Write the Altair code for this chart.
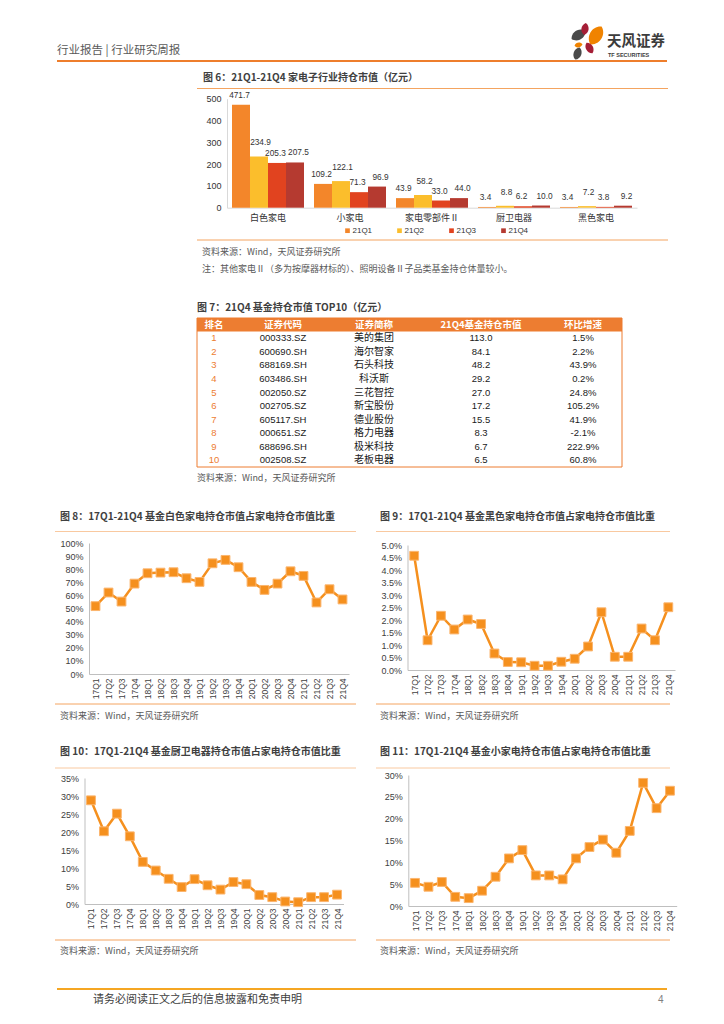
import altair as alt
import pandas as pd

CJK = "Noto Sans CJK SC"
LAT = "Liberation Sans"

# ---------------- data ----------------
fig6_categories = ["白色家电", "小家电", "家电零部件Ⅱ", "厨卫电器", "黑色家电"]
fig6_quarters = ["21Q1", "21Q2", "21Q3", "21Q4"]
fig6_21q1 = [471.7, 109.2, 43.9, 3.4, 3.4]
fig6_21q2 = [234.9, 122.1, 58.2, 8.8, 7.2]
fig6_21q3 = [205.3, 71.3, 33.0, 6.2, 3.8]
fig6_21q4 = [207.5, 96.9, 44.0, 10.0, 9.2]
fig6_colors = ["#F3862A", "#FBBE2C", "#E1431F", "#B53A30"]
fig6_ticks = [0, 100, 200, 300, 400, 500]

top10_header = ["排名", "证券代码", "证券简称", "21Q4基金持仓市值", "环比增速"]
top10_rank = [1, 2, 3, 4, 5, 6, 7, 8, 9, 10]
top10_code = ["000333.SZ", "600690.SH", "688169.SH", "603486.SH", "002050.SZ",
              "002705.SZ", "605117.SH", "000651.SZ", "688696.SH", "002508.SZ"]
top10_name = ["美的集团", "海尔智家", "石头科技", "科沃斯", "三花智控",
              "新宝股份", "德业股份", "格力电器", "极米科技", "老板电器"]
top10_value = [113.0, 84.1, 48.2, 29.2, 27.0, 17.2, 15.5, 8.3, 6.7, 6.5]
top10_growth = [1.5, 2.2, 43.9, 0.2, 24.8, 105.2, 41.9, -2.1, 222.9, 60.8]

quarters = ["17Q1", "17Q2", "17Q3", "17Q4", "18Q1", "18Q2", "18Q3", "18Q4",
            "19Q1", "19Q2", "19Q3", "19Q4", "20Q1", "20Q2", "20Q3", "20Q4",
            "21Q1", "21Q2", "21Q3", "21Q4"]
white_share = [51.8, 62.2, 55.3, 69.0, 76.9, 77.4, 77.7, 73.1, 70.3, 84.5,
               87.1, 81.5, 70.3, 64.2, 69.0, 78.4, 74.9, 54.6, 64.7, 56.9]
black_share = [4.57, 1.19, 2.17, 1.62, 2.02, 1.84, 0.66, 0.32, 0.31, 0.17,
               0.17, 0.33, 0.45, 0.94, 2.31, 0.53, 0.53, 1.66, 1.19, 2.51]
kitchen_share = [28.8, 20.2, 25.1, 18.8, 11.7, 9.3, 7.0, 4.7, 6.9, 5.2,
                 4.0, 6.1, 5.5, 2.5, 1.9, 0.7, 0.5, 1.9, 1.9, 2.6]
small_share = [5.3, 4.4, 5.5, 2.1, 1.8, 3.5, 6.7, 10.9, 12.8, 7.0,
               7.0, 6.1, 10.9, 13.5, 15.2, 12.2, 17.2, 28.2, 22.4, 26.4]
white_ticks = [0, 10, 20, 30, 40, 50, 60, 70, 80, 90, 100]
black_ticks = [0, 0.5, 1.0, 1.5, 2.0, 2.5, 3.0, 3.5, 4.0, 4.5, 5.0]
kitchen_ticks = [0, 5, 10, 15, 20, 25, 30, 35]
small_ticks = [0, 5, 10, 15, 20, 25, 30]

# ---------------- page geometry ----------------
W, H = 700, 1000


def px(p):
    return p - 8


one = pd.DataFrame({"k": [0]})
ORANGE_LINE = "#F4A460"
PEACH_LINE = "#F9C9A0"
LINE_ORANGE = "#F5901E"


def txt(s, x, y, size=9, color="#595959", font=CJK, bold=False, align="left"):
    return alt.Chart(one).mark_text(
        text=s, align=align, baseline="middle", fontSize=size, font=font,
        color=color, fontWeight="bold" if bold else "normal"
    ).encode(x=alt.value(px(x)), y=alt.value(px(y)))


def hline(x1, x2, y, color, w=1.0):
    return alt.Chart(one).mark_rule(color=color, strokeWidth=w).encode(
        x=alt.value(px(x1)), x2=alt.value(px(x2)), y=alt.value(px(y)))


LEAF = "M0,-1C0.8,-0.6 0.8,0.6 0,1C-0.8,0.6 -0.8,-0.6 0,-1Z"


def petal(x, y, length, angle, color):
    return alt.Chart(one).mark_point(
        shape=LEAF, filled=True, size=length * length, angle=angle,
        color=color, opacity=1, strokeWidth=0
    ).encode(x=alt.value(px(x)), y=alt.value(px(y)))


layers = []

# ---------------- header / footer ----------------
layers += [
    txt("行业报告 | 行业研究周报", 57, 51, size=11.5, color="#595959"),
    hline(57, 667, 61, "#EE7E2C", 2),
    petal(578.5, 35, 16, 60, "#4A4A4A"),
    petal(585, 29, 12, 8, "#A51E36"),
    petal(596, 35.5, 21, 32, "#F08300"),
    petal(578.5, 45, 8, 80, "#F08300"),
    petal(589.5, 48, 12, 330, "#A51E36"),
    petal(577.5, 53.5, 13, 20, "#4A4A4A"),
    txt("天风证券", 607, 42, size=14.5, color="#3C3C3C", bold=True),
    txt("TF SECURITIES", 608, 54.5, size=5.5, color="#3C3C3C", font=LAT, bold=True),
    hline(57, 667, 989, "#F5A623", 2),
    txt("请务必阅读正文之后的信息披露和免责申明", 93, 1000, size=11, color="#404040"),
    txt("4", 658, 1000, size=10, color="#808080", font=LAT),
]

# ---------------- figure 6 ----------------
fig6_df = pd.DataFrame({
    "category": fig6_categories * 4,
    "quarter": [q for q in fig6_quarters for _ in fig6_categories],
    "value": fig6_21q1 + fig6_21q2 + fig6_21q3 + fig6_21q4,
})

f6_x = alt.X(
    "category:N", sort=fig6_categories,
    scale=alt.Scale(domain=fig6_categories, range=[px(227), px(637)],
                    paddingInner=0.122, paddingOuter=0.061),
    axis=alt.Axis(orient="bottom", offset=px(207.7) - H, title=None, ticks=False,
                  labelAngle=0, labelFont=CJK, labelFontSize=9, labelColor="#333333",
                  labelPadding=6, domainColor="#D9D9D9", grid=False),
)
f6_xo = alt.XOffset("quarter:N", sort=fig6_quarters,
                    scale=alt.Scale(domain=fig6_quarters, paddingInner=0, paddingOuter=0))
f6_y = alt.Y(
    "value:Q",
    scale=alt.Scale(domain=[0, 500], range=[px(207.7), px(98.7)], nice=False),
    axis=alt.Axis(orient="left", offset=-px(227), title=None, ticks=False,
                  values=fig6_ticks, labelFont=LAT, labelFontSize=9,
                  labelColor="#333333", labelPadding=6, domainColor="#D9D9D9", grid=False),
)
f6_color = alt.Color("quarter:N", sort=fig6_quarters,
                     scale=alt.Scale(domain=fig6_quarters, range=fig6_colors),
                     legend=None)
f6_bars = alt.Chart(fig6_df).mark_bar().encode(
    x=f6_x, xOffset=f6_xo, y=f6_y, color=f6_color)

# value labels, one layer per quarter with a small nudge (as in the reference)
label_dx = {"21Q1": -1.5, "21Q2": 1.5, "21Q3": -1.5, "21Q4": 3.5}
label_dy = {"21Q1": -5, "21Q2": -9, "21Q3": -5, "21Q4": -5}
f6_label_layers = [
    alt.Chart(fig6_df).transform_filter(alt.datum.quarter == q).mark_text(
        baseline="bottom", dy=label_dy[q], dx=label_dx[q], fontSize=8.3, font=LAT,
        color="#333333"
    ).encode(x=f6_x, xOffset=f6_xo, y=f6_y, text=alt.Text("value:Q", format=".1f"))
    for q in fig6_quarters
]

# legend built from the quarter list
legend_df = pd.DataFrame({"quarter": fig6_quarters})
leg_x = alt.X("quarter:N", sort=fig6_quarters,
              scale=alt.Scale(type="point", domain=fig6_quarters,
                              range=[px(347.5), px(503.5)], padding=0),
              axis=None)
leg_sym = alt.Chart(legend_df).mark_square(size=22, opacity=1).encode(
    x=leg_x, y=alt.value(px(230.7)), color=f6_color)
leg_txt = alt.Chart(legend_df).mark_text(
    align="left", baseline="middle", dx=5, fontSize=8, font=LAT, color="#333333"
).encode(x=leg_x, y=alt.value(px(230.7)), text="quarter:N")

layers += [
    txt("图 6：21Q1-21Q4 家电子行业持仓市值（亿元）", 203, 78, size=10, color="#404040", bold=True),
    hline(197, 668, 88.5, ORANGE_LINE, 1),
    alt.layer(f6_bars, *f6_label_layers),
    alt.layer(leg_sym, leg_txt),
    hline(197, 668, 240, ORANGE_LINE, 1),
    txt("资料来源：Wind，天风证券研究所", 202, 252, size=9),
    txt("注：其他家电Ⅱ（多为按摩器材标的）、照明设备Ⅱ子品类基金持仓体量较小。", 202, 268.5, size=9),
]

# ---------------- figure 7 (table) ----------------
table_df = pd.DataFrame({
    "row": top10_rank,
    "rank": top10_rank,
    "code": top10_code,
    "name": top10_name,
    "value": top10_value,
    "growth": top10_growth,
})
row_y = alt.Y("row:O", scale=alt.Scale(type="point", domain=list(range(11)),
                                       range=[px(318), px(467)], padding=0.5),
              axis=None)
col_x = [214, 283, 374, 481, 583]


def table_col(field, x, color="#1A1A1A", font=LAT, size=9.5, fmt=None, calc=None):
    base = alt.Chart(table_df)
    if calc is not None:
        base = base.transform_calculate(label=calc)
        text = alt.Text("label:N")
    elif fmt is not None:
        text = alt.Text(field + ":Q", format=fmt)
    else:
        text = alt.Text(field + ":N")
    return base.mark_text(align="center", baseline="middle", fontSize=size,
                          font=font, color=color).encode(
        x=alt.value(px(x)), y=row_y, text=text)


layers += [
    txt("图 7：21Q4 基金持仓市值 TOP10（亿元）", 197, 308, size=10, color="#404040", bold=True),
    alt.Chart(one).mark_rect(color="#ED7D31").encode(
        x=alt.value(px(197)), x2=alt.value(px(622)),
        y=alt.value(px(318)), y2=alt.value(px(331.5))),
    alt.Chart(one).mark_rect(fillOpacity=0, stroke="#ED7D31", strokeWidth=1).encode(
        x=alt.value(px(197)), x2=alt.value(px(622)),
        y=alt.value(px(318)), y2=alt.value(px(467))),
]
for h, cx in zip(top10_header, col_x):
    layers.append(txt(h, cx, 325, size=9.5, color="#FFFFFF", bold=True, align="center"))
layers += [
    table_col("rank", col_x[0], color="#ED7D31"),
    table_col("code", col_x[1]),
    table_col("name", col_x[2], font=CJK, size=10),
    table_col("value", col_x[3], fmt=".1f"),
    table_col("growth", col_x[4],
              calc="replace(format(datum.growth, '.1f'), '\u2212', '-') + '%'"),
    txt("资料来源：Wind，天风证券研究所", 197, 478, size=9),
]


# ---------------- figures 8-11 (line panels) ----------------
def line_panel(values, x0, x1, y0, ytop, dmax, ticks, label_expr):
    df = pd.DataFrame({"quarter": quarters, "share": values})
    x = alt.X("quarter:N", sort=quarters,
              scale=alt.Scale(type="point", domain=quarters,
                              range=[px(x0), px(x1)], padding=0.5),
              axis=alt.Axis(orient="bottom", offset=px(y0) - H, title=None,
                            ticks=False, labelAngle=-90, labelOverlap=False,
                            labelFont=LAT, labelFontSize=8.5, labelColor="#404040",
                            labelPadding=4, domainColor="#BFBFBF", grid=False))
    y = alt.Y("share:Q",
              scale=alt.Scale(domain=[0, dmax], range=[px(y0), px(ytop)], nice=False),
              axis=alt.Axis(orient="left", offset=-px(x0), title=None, ticks=False,
                            values=ticks, labelExpr=label_expr, labelFont=LAT,
                            labelFontSize=9, labelColor="#404040", labelPadding=6,
                            domainColor="#BFBFBF", grid=False))
    line = alt.Chart(df).mark_line(color=LINE_ORANGE, strokeWidth=2.5).encode(x=x, y=y)
    pts = alt.Chart(df).mark_point(shape="square", filled=True, size=78,
                                   color=LINE_ORANGE, stroke="#FBB56E",
                                   strokeWidth=1, opacity=1).encode(x=x, y=y)
    return alt.layer(line, pts)


pct0 = "datum.value + '%'"
pct1 = "format(datum.value, '.1f') + '%'"

layers += [
    txt("图 8：17Q1-21Q4 基金白色家电持仓市值占家电持仓市值比重", 60, 517, size=10, color="#404040", bold=True),
    hline(55, 356, 531.5, PEACH_LINE, 1),
    line_panel(white_share, 89, 349, 674, 543, 100, white_ticks, pct0),
    hline(55, 356, 704, ORANGE_LINE, 1),
    txt("资料来源：Wind，天风证券研究所", 60, 716, size=9),

    txt("图 9：17Q1-21Q4 基金黑色家电持仓市值占家电持仓市值比重", 380, 517, size=10, color="#404040", bold=True),
    hline(376, 670, 531.5, PEACH_LINE, 1),
    line_panel(black_share, 407.5, 675, 670, 545, 5, black_ticks, pct1),
    hline(376, 670, 704, ORANGE_LINE, 1),
    txt("资料来源：Wind，天风证券研究所", 380, 716, size=9),

    txt("图 10：17Q1-21Q4 基金厨卫电器持仓市值占家电持仓市值比重", 60, 752, size=10, color="#404040", bold=True),
    hline(55, 356, 768, PEACH_LINE, 1),
    line_panel(kitchen_share, 84.5, 343.5, 904, 778, 35, kitchen_ticks, pct0),
    hline(55, 356, 940, ORANGE_LINE, 1),
    txt("资料来源：Wind，天风证券研究所", 60, 951, size=9),

    txt("图 11：17Q1-21Q4 基金小家电持仓市值占家电持仓市值比重", 380, 752, size=10, color="#404040", bold=True),
    hline(376, 670, 768, PEACH_LINE, 1),
    line_panel(small_share, 408.3, 676.7, 906, 775, 30, small_ticks, pct0),
    hline(376, 670, 940, ORANGE_LINE, 1),
    txt("资料来源：Wind，天风证券研究所", 380, 951, size=9),
]

chart = alt.layer(*layers).resolve_scale(
    x="independent", y="independent", color="independent"
).properties(
    width=W, height=H, padding=0,
    autosize=alt.AutoSizeParams(type="none"),
    background="#FFFFFF",
).configure_view(stroke=None)

chart.save("out.html", embed_options={"renderer": "svg", "actions": False})
